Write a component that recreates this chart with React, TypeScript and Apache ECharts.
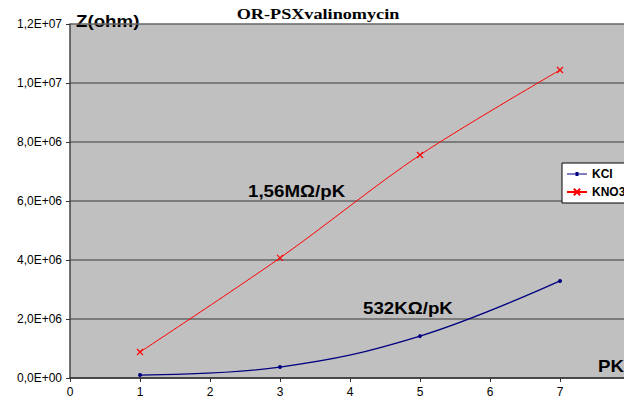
import React, { useEffect, useRef } from "react";
import * as echarts from "echarts";

const pkValues = [1, 3, 5, 7];
const kclValues = [1.0e5, 3.7e5, 1.42e6, 3.29e6];
const kno3Values = [8.8e5, 4.07e6, 7.56e6, 1.044e7];
const yTickLabels = ["0,0E+00", "2,0E+06", "4,0E+06", "6,0E+06", "8,0E+06", "1,0E+07", "1,2E+07"];
const seriesNames = ["KCl", "KNO3"];
const titleText = "OR-PSXvalinomycin";
const annotations = ["1,56MΩ/pK", "532KΩ/pK", "PK", "Z(ohm)"];

export default function App() {
  const ref = useRef<HTMLDivElement>(null);
  useEffect(() => {
    document.body.style.margin = "0";
    if (!ref.current) return;
    const chart = echarts.init(ref.current, undefined, { renderer: "svg" });
    const font = "Arial, 'Liberation Sans', sans-serif";
    const txt = (text: string, x: number, y: number) => ({
      type: "text",
      x,
      y,
      scaleX: 1.17,
      style: { text, font: `bold 16px ${font}`, fill: "#000", textVerticalAlign: "top" },
    });
    chart.setOption({
      animation: false,
      backgroundColor: "#ffffff",
      grid: { left: 70, top: 24, width: 560, height: 354, backgroundColor: "#c0c0c0", show: true, borderWidth: 0 },
      xAxis: {
        type: "value",
        min: 0,
        max: 8,
        interval: 1,
        axisLine: { show: true, onZero: false, lineStyle: { color: "#333", width: 1.5 } },
        axisTick: { show: true, inside: false, length: 4, lineStyle: { color: "#333" } },
        axisLabel: {
          fontFamily: font,
          fontSize: 12,
          color: "#000",
          margin: 8,
          formatter: (v: number) => (v >= 8 ? "" : String(v)),
        },
        splitLine: { show: false },
      },
      yAxis: {
        type: "value",
        min: 0,
        max: 1.2e7,
        interval: 2e6,
        axisLine: { show: true, lineStyle: { color: "#444", width: 1.5 } },
        axisTick: { show: true, inside: false, length: 4, lineStyle: { color: "#333" } },
        axisLabel: {
          fontFamily: font,
          fontSize: 12,
          color: "#000",
          margin: 8,
          formatter: (v: number) => yTickLabels[Math.round(v / 2e6)],
        },
        splitLine: { show: true, lineStyle: { color: "#666", width: 1.5 } },
      },
      legend: {
        left: 562,
        top: 163,
        orient: "vertical",
        backgroundColor: "#fff",
        borderColor: "#000",
        borderWidth: 1,
        padding: [5, 4, 5, 4],
        itemGap: 6,
        itemWidth: 20,
        itemHeight: 8,
        textStyle: { fontFamily: font, fontSize: 12, fontWeight: "bold", color: "#000", padding: [0, 30, 0, 0] },
        formatter: (n: string) => (n === "KCl" ? "KCI" : n),
        data: [
          { name: seriesNames[0], icon: "path://M0,4.5 L20,4.5 L20,5.5 L0,5.5 Z M8.5,3 L11.5,3 L11.5,7 L8.5,7 Z" },
          { name: seriesNames[1] },
        ],
      },
      series: [
        {
          name: seriesNames[0],
          type: "line",
          smooth: 0.4,
          data: pkValues.map((x, i) => [x, kclValues[i]]),
          symbol: "circle",
          symbolSize: 4,
          lineStyle: { color: "#000080", width: 1.3 },
          itemStyle: { color: "#000080" },
        },
        {
          name: seriesNames[1],
          type: "line",
          smooth: 0.3,
          data: pkValues.map((x, i) => [x, kno3Values[i]]),
          symbol: "path://M0,0 L10,10 M10,0 L0,10",
          symbolSize: 6,
          lineStyle: { color: "#ff0000", width: 1 },
          itemStyle: { color: "none", borderColor: "#ff0000", borderWidth: 1.2 },
        },
      ],
      graphic: [
        {
          type: "text",
          x: 318,
          y: 8,
          scaleX: 1.3,
          style: {
            text: titleText,
            font: "bold 14px 'Liberation Serif', 'Times New Roman', serif",
            fill: "#000",
            textAlign: "center",
            textVerticalAlign: "top",
          },
        },
        txt(annotations[0], 248, 183),
        txt(annotations[1], 363, 300),
        txt(annotations[2], 598, 358),
        txt(annotations[3], 76, 13),
      ],
    });
    return () => chart.dispose();
  }, []);
  return (
    <div style={{ width: 624, height: 398, overflow: "hidden", position: "relative" }}>
      <div ref={ref} style={{ width: 700, height: 398, position: "absolute", left: 0, top: 0 }} />
    </div>
  );
}
